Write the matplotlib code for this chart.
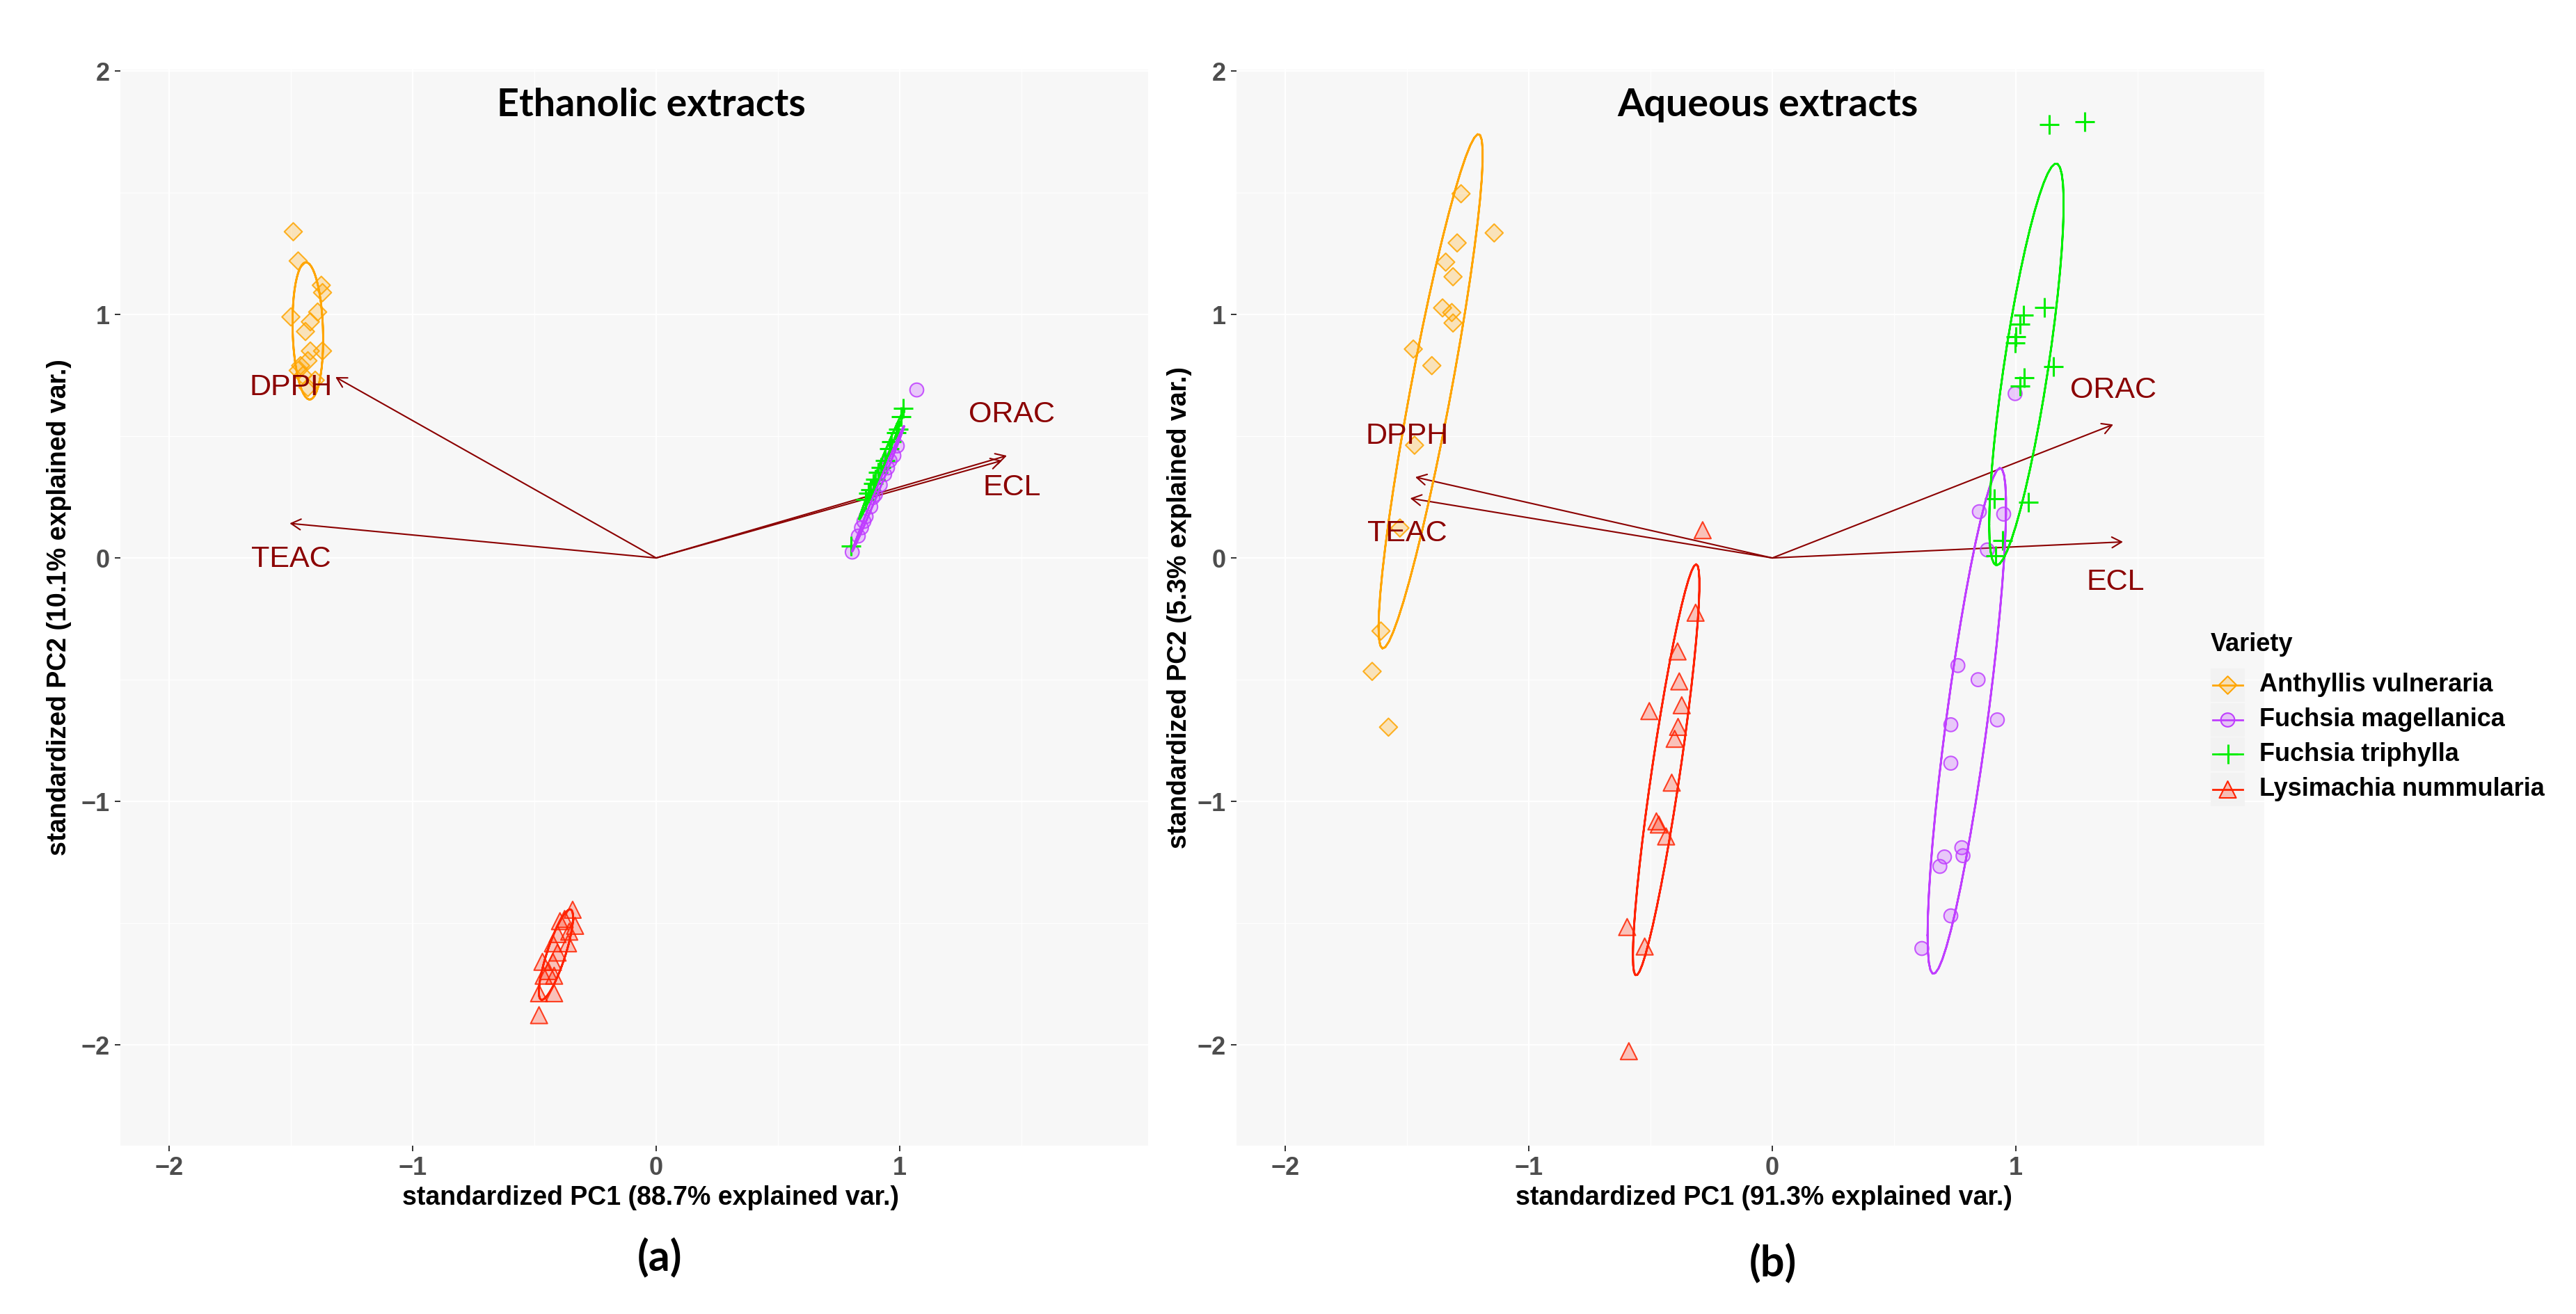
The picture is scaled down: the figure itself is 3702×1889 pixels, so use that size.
import numpy as np
import matplotlib.pyplot as plt
from matplotlib.patches import Rectangle

W, H = 3702, 1889

varieties = ["Anthyllis vulneraria", "Fuchsia magellanica", "Fuchsia triphylla", "Lysimachia nummularia"]
colors = ["#FFA500", "#BF3EFF", "#00EE00", "#FF2200"]
markers = ["D", "o", "+", "^"]

# --- ethanolic extracts: standardized PC scores ---
eth_anthyllis_x = [-1.49, -1.47, -1.375, -1.37, -1.50, -1.39, -1.42, -1.44, -1.42, -1.37, -1.43, -1.46, -1.47, -1.45, -1.40, -1.43]
eth_anthyllis_y = [1.34, 1.22, 1.12, 1.09, 0.99, 1.01, 0.97, 0.93, 0.85, 0.85, 0.81, 0.79, 0.77, 0.75, 0.73, 0.70]
eth_magellanica_x = [1.07, 0.99, 0.976, 0.96, 0.95, 0.938, 0.92, 0.90, 0.89, 0.881, 0.862, 0.853, 0.843, 0.83, 0.805]
eth_magellanica_y = [0.69, 0.46, 0.42, 0.40, 0.37, 0.343, 0.30, 0.26, 0.248, 0.21, 0.17, 0.15, 0.124, 0.09, 0.024]
eth_triphylla_x = [1.014, 1.005, 0.995, 0.985, 0.967, 0.957, 0.94, 0.924, 0.91, 0.90, 0.89, 0.88, 0.87, 0.86, 0.80]
eth_triphylla_y = [0.614, 0.58, 0.53, 0.514, 0.476, 0.448, 0.40, 0.371, 0.352, 0.324, 0.305, 0.281, 0.267, 0.24, 0.048]
eth_lysimachia_x = [-0.343, -0.376, -0.333, -0.395, -0.357, -0.405, -0.362, -0.424, -0.405, -0.467, -0.424, -0.443, -0.462, -0.419, -0.481, -0.419, -0.481]
eth_lysimachia_y = [-1.445, -1.483, -1.511, -1.492, -1.535, -1.545, -1.583, -1.583, -1.621, -1.659, -1.659, -1.697, -1.716, -1.716, -1.788, -1.788, -1.878]

eth_vars = ["DPPH", "TEAC", "ORAC", "ECL"]
eth_load_x = [-1.317, -1.505, 1.44, 1.42]
eth_load_y = [0.743, 0.142, 0.42, 0.40]
eth_label_x = [-1.50, -1.50, 1.46, 1.46]
eth_label_y = [0.70, -0.006, 0.59, 0.29]

# --- aqueous extracts ---
aq_anthyllis_x = [-1.278, -1.142, -1.294, -1.341, -1.311, -1.354, -1.316, -1.311, -1.474, -1.398, -1.469, -1.529, -1.607, -1.643, -1.576]
aq_anthyllis_y = [1.496, 1.335, 1.294, 1.215, 1.155, 1.027, 1.008, 0.965, 0.858, 0.790, 0.463, 0.123, -0.30, -0.466, -0.695]
aq_magellanica_x = [0.997, 0.85, 0.95, 0.883, 0.762, 0.845, 0.924, 0.733, 0.733, 0.707, 0.688, 0.778, 0.783, 0.733, 0.614]
aq_magellanica_y = [0.675, 0.19, 0.18, 0.033, -0.442, -0.50, -0.665, -0.685, -0.843, -1.228, -1.267, -1.19, -1.223, -1.47, -1.604]
aq_triphylla_x = [1.137, 1.283, 1.118, 1.030, 1.016, 1.0, 0.997, 1.035, 1.016, 1.154, 1.05, 0.911, 0.945, 0.916]
aq_triphylla_y = [1.779, 1.792, 1.028, 0.997, 0.959, 0.909, 0.883, 0.739, 0.706, 0.787, 0.228, 0.244, 0.071, 0.008]
aq_lysimachia_x = [-0.286, -0.315, -0.389, -0.382, -0.372, -0.387, -0.401, -0.505, -0.413, -0.476, -0.466, -0.436, -0.596, -0.524, -0.589]
aq_lysimachia_y = [0.114, -0.225, -0.384, -0.507, -0.605, -0.694, -0.743, -0.629, -0.923, -1.082, -1.095, -1.144, -1.516, -1.596, -2.026]

aq_vars = ["DPPH", "TEAC", "ORAC", "ECL"]
aq_load_x = [-1.466, -1.487, 1.40, 1.44]
aq_load_y = [0.332, 0.245, 0.548, 0.066]
aq_label_x = [-1.50, -1.50, 1.40, 1.41]
aq_label_y = [0.50, 0.10, 0.69, -0.10]


def data_ellipse(x, y, prob=0.68):
    # same construction as ggbiplot (normal data ellipse)
    theta = np.concatenate([np.linspace(-np.pi, np.pi, 50), np.linspace(np.pi, -np.pi, 50)])
    circle = np.column_stack([np.cos(theta), np.sin(theta)])
    sigma = np.cov(x, y)
    mu = np.array([np.mean(x), np.mean(y)])
    ed = np.sqrt(-2 * np.log(1 - prob))
    pts = circle @ np.linalg.cholesky(sigma).T * ed + mu
    return pts[:, 0], pts[:, 1]


def fx(px):
    return px / W


def fy(py):
    return 1 - py / H


def draw_panel(ax, groups, vars_, lx, ly, tx, ty, title):
    ax.set_facecolor("#F7F7F7")
    for s in ax.spines.values():
        s.set_visible(False)
    ax.set_xlim(-2.2, 2.02)
    ax.set_ylim(-2.414, 2.006)
    ax.set_xticks([-2, -1, 0, 1])
    ax.set_yticks([-2, -1, 0, 1, 2])
    ax.set_xticks([-1.5, -0.5, 0.5, 1.5], minor=True)
    ax.set_yticks([-1.5, -0.5, 0.5, 1.5], minor=True)
    ax.grid(which="major", color="white", lw=1.6, zorder=0)
    ax.grid(which="minor", color="white", lw=0.8, zorder=0)
    ax.set_axisbelow(True)
    ax.tick_params(which="major", length=6, width=1.4, color="#333333", pad=5,
                   labelsize=26, labelcolor="#4D4D4D")
    ax.tick_params(which="minor", length=0)
    for lab in ax.get_xticklabels() + ax.get_yticklabels():
        lab.set_fontweight("bold")
        lab.set_family("Liberation Sans")

    for i in range(len(vars_)):
        ax.annotate("", xy=(lx[i], ly[i]), xytext=(0, 0),
                    arrowprops=dict(arrowstyle="->,head_length=0.45,head_width=0.25",
                                    color="#8B0000", lw=1.5, shrinkA=0, shrinkB=0,
                                    mutation_scale=22), zorder=2)

    for (gx, gy), c, m in zip(groups, colors, markers):
        if m == "+":
            ax.scatter(gx, gy, marker=m, s=420, color=c, linewidths=2.2, zorder=3)
        else:
            size = {"D": 170, "o": 200, "^": 300}[m]
            ax.scatter(gx, gy, marker=m, s=size, facecolors=c, edgecolors="none",
                       alpha=0.25, zorder=3)
            ax.scatter(gx, gy, marker=m, s=size, facecolors="none", edgecolors=c,
                       linewidths=1.5, alpha=0.85, zorder=3)
        ex, ey = data_ellipse(np.array(gx), np.array(gy))
        ax.plot(ex, ey, color=c, lw=2.0, zorder=4)

    for i, v in enumerate(vars_):
        ax.text(tx[i], ty[i], v, color="#8B0000", fontsize=31, family="Liberation Sans",
                ha="center", va="center", zorder=5)

    ax.text(-0.02, 1.86, title, fontsize=40, fontweight="bold", family="Lato",
            ha="center", va="center", zorder=5)


fig = plt.figure(figsize=(W / 100, H / 100), dpi=100)

left_px, right_px, top_px, bot_px = 173, 1777, 100, 1647
pw = 1477
ax1 = fig.add_axes([fx(left_px), fy(bot_px), pw / W, (bot_px - top_px) / H])
ax2 = fig.add_axes([fx(right_px), fy(bot_px), pw / W, (bot_px - top_px) / H])

eth_groups = [(eth_anthyllis_x, eth_anthyllis_y), (eth_magellanica_x, eth_magellanica_y),
              (eth_triphylla_x, eth_triphylla_y), (eth_lysimachia_x, eth_lysimachia_y)]
aq_groups = [(aq_anthyllis_x, aq_anthyllis_y), (aq_magellanica_x, aq_magellanica_y),
             (aq_triphylla_x, aq_triphylla_y), (aq_lysimachia_x, aq_lysimachia_y)]

draw_panel(ax1, eth_groups, eth_vars, eth_load_x, eth_load_y, eth_label_x, eth_label_y, "Ethanolic extracts")
draw_panel(ax2, aq_groups, aq_vars, aq_load_x, aq_load_y, aq_label_x, aq_label_y, "Aqueous extracts")

# axis titles
fig.text(fx(935), fy(1722), "standardized PC1 (88.7% explained var.)", fontsize=27,
         fontweight="bold", family="Liberation Sans", ha="center", va="center")
fig.text(fx(2535), fy(1722), "standardized PC1 (91.3% explained var.)", fontsize=27,
         fontweight="bold", family="Liberation Sans", ha="center", va="center")
fig.text(fx(85), fy(873), "standardized PC2 (10.1% explained var.)", fontsize=27,
         fontweight="bold", family="Liberation Sans", ha="center", va="center", rotation=90)
fig.text(fx(1695), fy(873), "standardized PC2 (5.3% explained var.)", fontsize=27,
         fontweight="bold", family="Liberation Sans", ha="center", va="center", rotation=90)

fig.text(fx(948), fy(1807), "(a)", fontsize=44, fontweight="bold", family="Lato",
         ha="center", va="center")
fig.text(fx(2548), fy(1815), "(b)", fontsize=44, fontweight="bold", family="Lato",
         ha="center", va="center")

# legend
lx0, lx1, ly0, ly1 = 3165, 3702, 893, 1172
axl = fig.add_axes([fx(lx0), fy(ly1), (lx1 - lx0) / W, (ly1 - ly0) / H])
axl.set_xlim(lx0, lx1)
axl.set_ylim(ly1, ly0)
axl.axis("off")
axl.text(3177, 927, "Variety", fontsize=26, fontweight="bold", family="Liberation Sans",
         ha="left", va="center")
row_y = [985, 1035, 1084, 1135]
for name, c, m, yy in zip(varieties, colors, markers, row_y):
    axl.add_patch(Rectangle((3177, yy - 24), 49, 48, facecolor="#F2F2F2", edgecolor="none"))
    axl.plot([3180, 3223], [yy, yy], color=c, lw=2.0)
    if m == "+":
        axl.scatter([3201.5], [yy], marker=m, s=420, color=c, linewidths=2.2)
    else:
        size = {"D": 170, "o": 200, "^": 300}[m]
        axl.scatter([3201.5], [yy], marker=m, s=size, facecolors=c, edgecolors="none", alpha=0.25)
        axl.scatter([3201.5], [yy], marker=m, s=size, facecolors="none", edgecolors=c, linewidths=1.5)
    axl.text(3247, yy, name, fontsize=26, fontweight="bold", family="Liberation Sans",
             ha="left", va="center")

fig.savefig("out.png", dpi=100, facecolor="white")
